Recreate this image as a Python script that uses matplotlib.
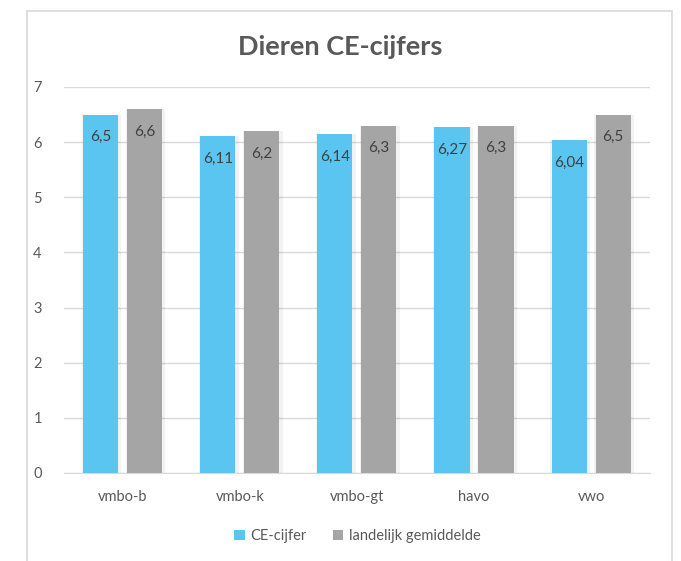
import matplotlib.pyplot as plt
import matplotlib.patches as mpatches
import numpy as np

categories = ['vmbo-b', 'vmbo-k', 'vmbo-gt', 'havo', 'vwo']
ce_cijfer = [6.5, 6.11, 6.14, 6.27, 6.04]
landelijk = [6.6, 6.2, 6.3, 6.3, 6.5]
series_names = ['CE-cijfer', 'landelijk gemiddelde']

blue = '#5BC5F1'
grey = '#A5A5A5'
text_col = '#595959'

plt.rcParams['font.family'] = ['Lato', 'DejaVu Sans']

fig = plt.figure(figsize=(6.81, 5.61), dpi=100)
ax = fig.add_axes([0.094, 0.157, 0.860, 0.688])

x = np.arange(len(categories))
w = 0.30
off = 0.188

# zachte schaduw rond de balken
for xs, vals in ((x - off, ce_cijfer), (x + off, landelijk)):
    ax.bar(xs + 0.008, vals, w + 0.04, color='#000000', alpha=0.05, zorder=2)

b1 = ax.bar(x - off, ce_cijfer, w, color=blue, zorder=3, label=series_names[0])
b2 = ax.bar(x + off, landelijk, w, color=grey, zorder=3, label=series_names[1])

# waarden in de balken
for bars, vals in ((b1, ce_cijfer), (b2, landelijk)):
    for r, v in zip(bars, vals):
        lbl = ('%g' % v).replace('.', ',')
        ax.text(r.get_x() + r.get_width() / 2, v - 0.41, lbl,
                ha='center', va='center', fontsize=11, color='#404040', zorder=4)

ax.set_xlim(-0.5, len(categories) - 0.5)
ax.set_ylim(0, 7)
ax.set_yticks(range(0, 8))
ax.set_xticks(x)
ax.set_xticklabels(categories)
ax.tick_params(axis='both', length=0, labelsize=10.5, colors=text_col)
ax.tick_params(axis='y', pad=16)
ax.tick_params(axis='x', pad=12)
ax.grid(axis='y', color='#D9D9D9', linewidth=1, zorder=0)
for s in ('top', 'right', 'left'):
    ax.spines[s].set_visible(False)
ax.spines['bottom'].set_color('#D9D9D9')

fig.text(0.5, 0.917, 'Dieren CE-cijfers', ha='center', va='center',
         fontsize=19.5, fontweight='bold', color=text_col)

fig.legend(handles=[b1, b2], loc='center', bbox_to_anchor=(0.525, 0.045),
           ncol=2, frameon=False, fontsize=10.5, labelcolor=text_col,
           handlelength=0.7, handleheight=0.7, handletextpad=0.4,
           columnspacing=1.8)

# kader om de grafiek
fig.patches.append(mpatches.Rectangle((27 / 681, -0.01), 645 / 681, 0.99,
                                      transform=fig.transFigure, fill=False,
                                      edgecolor='#D9D9D9', linewidth=1.2))

fig.savefig('out.png', dpi=100)
